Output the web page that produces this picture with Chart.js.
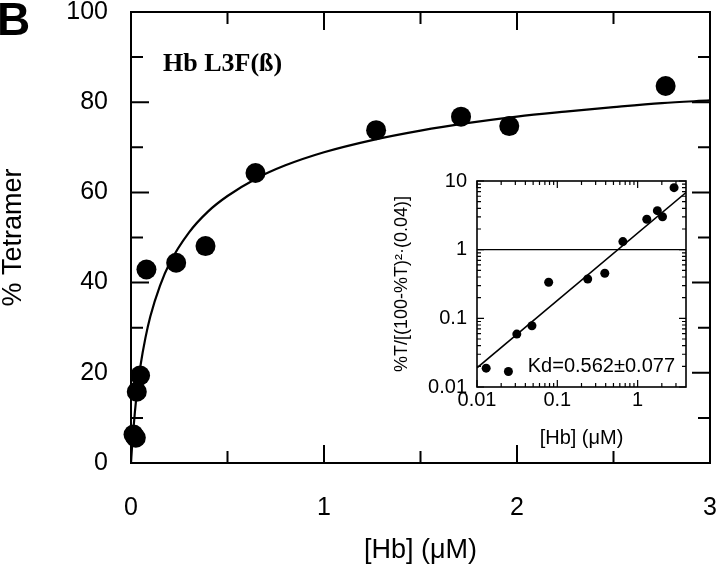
<!DOCTYPE html>
<html><head><meta charset="utf-8">
<script src="https://cdn.jsdelivr.net/npm/chart.js@4.4.0/dist/chart.umd.min.js"></script>
<style>
html,body{margin:0;padding:0;background:#fff;}
#wrap{position:relative;width:720px;height:571px;overflow:hidden;}
#main{position:absolute;left:0;top:0;}
#inset{position:absolute;left:380px;top:165px;}
</style></head><body>
<div id="wrap">
<canvas id="main" width="720" height="571"></canvas>
<canvas id="inset" width="330" height="290"></canvas>
</div>
<script>
// ---- Main panel data ----
const hbConc = [0.013, 0.025, 0.030, 0.047, 0.080, 0.234, 0.386, 0.645, 1.27, 1.71, 1.96, 2.77];
const pctTetramer = [6.3, 5.6, 15.8, 19.4, 42.9, 44.4, 48.1, 64.3, 73.8, 76.8, 74.7, 83.6];
const fitHb = [0, 0.005, 0.01, 0.02, 0.03, 0.05, 0.075, 0.1, 0.15, 0.2, 0.3, 0.4, 0.5, 0.65, 0.8, 1.0, 1.25, 1.5, 1.75, 2.0, 2.25, 2.5, 2.75, 3.0];
const fitTetramer = [0, 3.4, 6.2, 11.2, 15.3, 21.8, 27.8, 32.5, 39.3, 44.3, 51.1, 55.8, 59.2, 63.1, 66.0, 68.9, 71.6, 73.7, 75.4, 76.8, 77.9, 78.9, 79.8, 80.4];
const xTickLabels = [0, 1, 2, 3];
const xMinorTicks = [0.5, 1.5, 2.5];
const yTickLabels = [0, 20, 40, 60, 80, 100];
const yMinorTicks = [10, 30, 50, 70, 90];

// ---- Inset data ----
const insetHb = [0.013, 0.0246, 0.0313, 0.0483, 0.078, 0.239, 0.39, 0.655, 1.30, 1.76, 2.04, 2.84];
const insetRatio = [0.0188, 0.0168, 0.059, 0.078, 0.335, 0.374, 0.453, 1.31, 2.77, 3.70, 3.02, 8.0];
const insetFitHb = [0.01, 4];
const insetFitRatio = [0.019, 6.8];
const insetRefRatio = [1, 1];
const insetXTickLabels = [0.01, 0.1, 1];
const insetYTickLabels = [0.01, 0.1, 1, 10];
const insetDecades = [0.01, 0.1, 1];
const minorMultipliers = [2, 3, 4, 5, 6, 7, 8, 9];

const SANS = '"Liberation Sans", Arial, sans-serif';
Chart.defaults.color = '#000';
Chart.defaults.font.family = SANS;

function makeFrame(cfg) {
  return {
    id: 'frame_' + cfg.name,
    beforeDatasetsDraw(chart) {
      const {ctx, chartArea: a, scales: {x, y}} = chart;
      ctx.save();
      ctx.strokeStyle = '#000';
      ctx.lineWidth = cfg.tickWidth;
      ctx.beginPath();
      const vx = (vals, len) => vals.forEach(v => {
        const p = x.getPixelForValue(v);
        ctx.moveTo(p, a.bottom); ctx.lineTo(p, a.bottom - len);
        ctx.moveTo(p, a.top); ctx.lineTo(p, a.top + len);
      });
      const vy = (vals, len) => vals.forEach(v => {
        const p = y.getPixelForValue(v);
        ctx.moveTo(a.left, p); ctx.lineTo(a.left + len, p);
        ctx.moveTo(a.right, p); ctx.lineTo(a.right - len, p);
      });
      vx(cfg.xMajor, cfg.major); vx(cfg.xMinor, cfg.minor);
      vy(cfg.yMajor, cfg.major); vy(cfg.yMinor, cfg.minor);
      ctx.stroke();
      ctx.lineWidth = cfg.frameWidth;
      ctx.strokeRect(a.left, a.top, a.right - a.left, a.bottom - a.top);
      ctx.restore();
    }
  };
}

const mainText = {
  id: 'mainText',
  afterDraw(chart) {
    const ctx = chart.ctx;
    ctx.save();
    ctx.fillStyle = '#000';
    ctx.textAlign = 'left';
    ctx.textBaseline = 'alphabetic';
    ctx.font = 'bold 46px ' + SANS;
    ctx.fillText('B', -3, 35);
    ctx.font = 'bold 26px "Liberation Serif", "Times New Roman", serif';
    ctx.fillText('Hb L3F(ß)', 163, 71);
    ctx.restore();
  }
};

const insetText = {
  id: 'insetText',
  afterDraw(chart) {
    const ctx = chart.ctx, a = chart.chartArea;
    ctx.save();
    ctx.fillStyle = '#000';
    ctx.textAlign = 'right';
    ctx.textBaseline = 'alphabetic';
    ctx.font = '20px ' + SANS;
    ctx.fillText('Kd=0.562±0.077', a.right - 11, a.bottom - 15);
    ctx.restore();
  }
};

new Chart(document.getElementById('main'), {
  type: 'scatter',
  data: {
    datasets: [
      {
        data: hbConc.map((v, i) => ({x: v, y: pctTetramer[i]})),
        pointRadius: 10, pointHoverRadius: 10,
        backgroundColor: '#000', borderWidth: 0, clip: false
      },
      {
        data: fitHb.map((v, i) => ({x: v, y: fitTetramer[i]})),
        showLine: true, pointRadius: 0, borderColor: '#000', borderWidth: 2.2,
        cubicInterpolationMode: 'monotone', fill: false
      }
    ]
  },
  options: {
    responsive: false, animation: false, devicePixelRatio: 1,
    layout: {padding: {top: 12, right: 4, left: 0, bottom: 0}},
    plugins: {legend: {display: false}, tooltip: {enabled: false}},
    scales: {
      x: {
        type: 'linear', min: 0, max: 3,
        grid: {display: false, drawTicks: false}, border: {display: false},
        afterBuildTicks: s => { s.ticks = xTickLabels.map(v => ({value: v})); },
        afterFit: s => { s.height = 108; s.paddingLeft = 0; s.paddingRight = 0; },
        ticks: {font: {size: 25}, padding: 30, maxRotation: 0, callback: v => String(v)},
        title: {display: true, text: '[Hb] (μM)', font: {size: 27}, padding: {top: 0, bottom: 4}}
      },
      y: {
        type: 'linear', min: 0, max: 100,
        grid: {display: false, drawTicks: false}, border: {display: false},
        afterBuildTicks: s => { s.ticks = yTickLabels.map(v => ({value: v})); },
        afterFit: s => { s.width = 131; s.paddingTop = 0; s.paddingBottom = 0; },
        ticks: {font: {size: 25}, padding: 23, callback: v => String(v)},
        title: {display: true, text: '% Tetramer', font: {size: 27, lineHeight: 1}, padding: {top: 0, bottom: 0}}
      }
    }
  },
  plugins: [makeFrame({name: 'main', xMajor: xTickLabels, xMinor: xMinorTicks, yMajor: yTickLabels, yMinor: yMinorTicks, major: 18, minor: 12, tickWidth: 2, frameWidth: 2}), mainText]
});

const insetMinor = [];
insetDecades.forEach(d => minorMultipliers.forEach(m => insetMinor.push(d * m)));

new Chart(document.getElementById('inset'), {
  type: 'scatter',
  data: {
    datasets: [
      {
        data: insetHb.map((v, i) => ({x: v, y: insetRatio[i]})),
        pointRadius: 4.5, pointHoverRadius: 4.5, backgroundColor: '#000', borderWidth: 0, clip: false
      },
      {
        data: insetFitHb.map((v, i) => ({x: v, y: insetFitRatio[i]})),
        showLine: true, pointRadius: 0, borderColor: '#000', borderWidth: 1.6
      },
      {
        data: insetFitHb.map((v, i) => ({x: v, y: insetRefRatio[i]})),
        showLine: true, pointRadius: 0, borderColor: '#000', borderWidth: 1.4
      }
    ]
  },
  options: {
    responsive: false, animation: false, devicePixelRatio: 1,
    layout: {padding: {top: 16, right: 24, left: 0, bottom: 0}},
    plugins: {legend: {display: false}, tooltip: {enabled: false}},
    scales: {
      x: {
        type: 'logarithmic', min: 0.01, max: 4,
        grid: {display: false, drawTicks: false}, border: {display: false},
        afterBuildTicks: s => { s.ticks = insetXTickLabels.map(v => ({value: v})); },
        afterFit: s => { s.height = 68; s.paddingLeft = 0; s.paddingRight = 0; },
        ticks: {font: {size: 20}, padding: 1, maxRotation: 0, autoSkip: false, callback: v => String(v)},
        title: {display: true, text: '[Hb] (μM)', font: {size: 20}, padding: {top: 0, bottom: 5}}
      },
      y: {
        type: 'logarithmic', min: 0.01, max: 10,
        grid: {display: false, drawTicks: false}, border: {display: false},
        afterBuildTicks: s => { s.ticks = insetYTickLabels.map(v => ({value: v})); },
        afterFit: s => { s.width = 97; s.paddingTop = 0; s.paddingBottom = 0; },
        ticks: {font: {size: 20}, padding: 10, autoSkip: false, callback: v => String(v)},
        title: {display: true, text: '%T/[(100-%T)²·(0.04)]', font: {size: 18, lineHeight: 1}, padding: {top: 13, bottom: 0}}
      }
    }
  },
  plugins: [makeFrame({name: 'inset', xMajor: insetXTickLabels, xMinor: insetMinor.filter(v => v < 4), yMajor: insetYTickLabels, yMinor: insetMinor, major: 7, minor: 4, tickWidth: 1.2, frameWidth: 1.6}), insetText]
});
</script>
</body></html>
